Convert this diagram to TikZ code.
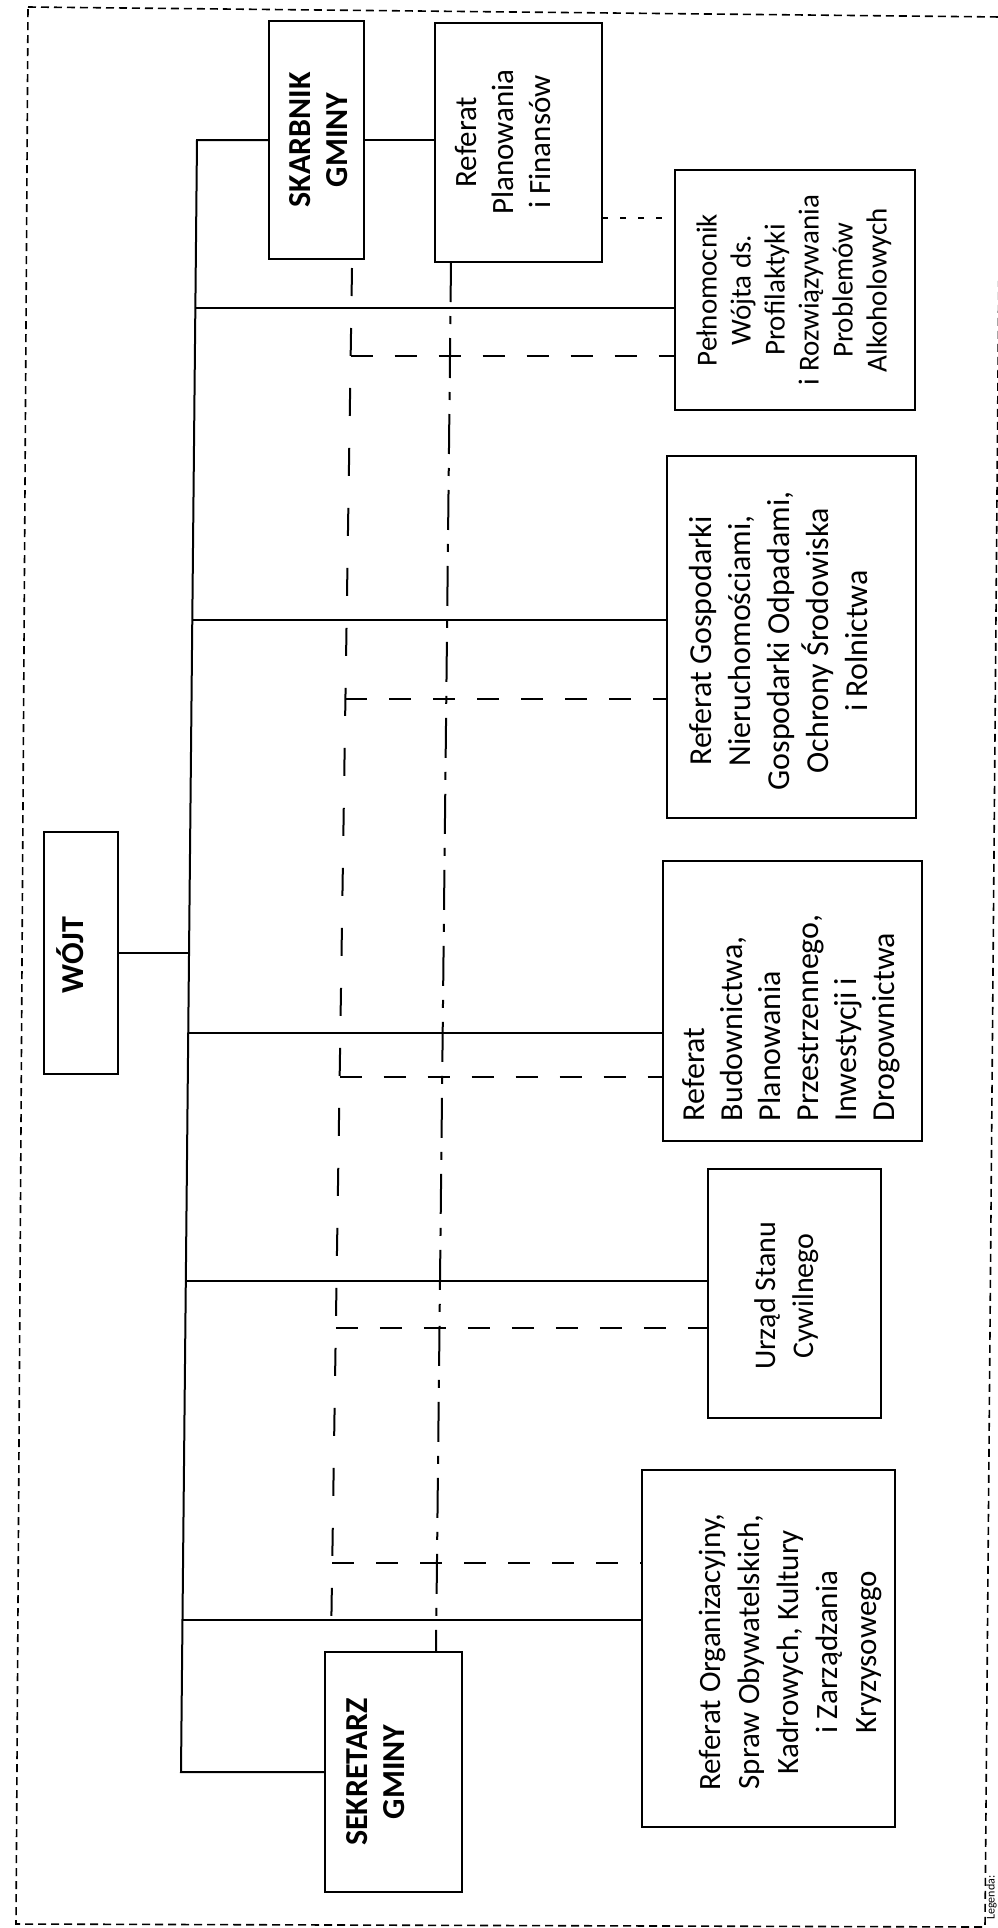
\documentclass[tikz,border=0pt]{standalone}
\usepackage{fontspec}
\setmainfont{Carlito}
\begin{document}
\begin{tikzpicture}[x=1pt,y=-1pt,
  box/.style={draw, line width=2.2pt, inner sep=0pt},
  conn/.style={line width=2pt},
  lbl/.style={rotate=90, inner sep=0pt, align=center},
  dashA/.style={line width=2pt, dash pattern=on 28pt off 32pt},
  dashB/.style={line width=2pt, dash pattern=on 40pt off 14pt on 8pt off 14pt},
  dashH/.style={line width=2pt, dash pattern=on 22pt off 22pt},
  dotH/.style={line width=2pt, dash pattern=on 6pt off 12pt},
  frame/.style={line width=1.6pt, dash pattern=on 8pt off 5pt}]
\useasboundingbox (0,0) rectangle (998,1928);
% outer dashed frame
\draw[frame] (28,7) -- (1001,17) -- (985,1927) -- (16,1924) -- cycle;
% boxes
\node[box, minimum width=95pt, minimum height=238pt] (skarbnik) at (316.5,140) {};
\node[box, minimum width=167pt, minimum height=239pt] (planowania) at (518.5,142.5) {};
\node[box, minimum width=240pt, minimum height=240pt] (pelnomocnik) at (795,290) {};
\node[box, minimum width=249pt, minimum height=362pt] (gospodarki) at (791.5,637) {};
\node[box, minimum width=74pt, minimum height=242pt] (wojt) at (81,953) {};
\node[box, minimum width=259pt, minimum height=280pt] (budownictwa) at (792.5,1001) {};
\node[box, minimum width=173pt, minimum height=249pt] (usc) at (794.5,1293.5) {};
\node[box, minimum width=253pt, minimum height=357pt] (organizacyjny) at (768.5,1648.5) {};
\node[box, minimum width=137pt, minimum height=240pt] (sekretarz) at (393.5,1772) {};
% texts
\node[lbl, font=\bfseries\fontsize{32}{37}\selectfont] (skarbnikT) at (319,140) {SKARBNIK\\GMINY};
\node[lbl, font=\fontsize{31}{37}\selectfont] (planowaniaT) at (503,142) {Referat\\Planowania\\i Finansów};
\node[lbl, font=\fontsize{29}{34}\selectfont] (pelnomocnikT) at (794,290) {Pełnomocnik\\Wójta ds.\\Profilaktyki\\i Rozwiązywania\\Problemów\\Alkoholowych};
\node[lbl, font=\fontsize{32}{39}\selectfont] (gospodarkiT) at (778,641) {Referat Gospodarki\\Nieruchomościami,\\Gospodarki Odpadami,\\Ochrony Środowiska\\i Rolnictwa};
\node[lbl, font=\bfseries\fontsize{32}{37}\selectfont] (wojtT) at (70,955) {WÓJT};
\node[lbl, align=left, font=\fontsize{32}{38}\selectfont] (budownictwaT) at (791,1018) {Referat\\Budownictwa,\\Planowania\\Przestrzennego,\\Inwestycji i\\Drogownictwa};
\node[lbl, font=\fontsize{30}{38}\selectfont] (uscT) at (787,1296) {Urząd Stanu\\Cywilnego};
\node[lbl, font=\fontsize{31}{39}\selectfont] (organizacyjnyT) at (790,1652) {Referat Organizacyjny,\\Spraw Obywatelskich,\\Kadrowych, Kultury\\i Zarządzania\\Kryzysowego};
\node[lbl, font=\bfseries\fontsize{32}{37}\selectfont] (sekretarzT) at (376,1772) {SEKRETARZ\\GMINY};
\node[rotate=90, anchor=base west, inner sep=0pt, font=\fontsize{12}{14}\selectfont] (legenda) at (994.5,1920) {Legenda:};
% trunk
\coordinate (ttop) at (197,140);
\coordinate (tbot) at (181,1772);
\draw[conn] (skarbnik.west) -- (ttop) -- (tbot) -- (sekretarz.west);
\draw[conn] (skarbnik.east) -- (skarbnik.east -| planowania.west);
\coordinate (t1) at (195.4,308);
\coordinate (t2) at (192.3,620);
\coordinate (t3) at (189,953);
\coordinate (t4) at (188.2,1033);
\coordinate (t5) at (185.9,1281);
\coordinate (t6) at (182.5,1620);
\draw[conn] (t1) -- (t1 -| pelnomocnik.west);
\draw[conn] (t2) -- (t2 -| gospodarki.west);
\draw[conn] (wojt.east) -- (t3);
\draw[conn] (t4) -- (t4 -| budownictwa.west);
\draw[conn] (t5) -- (t5 -| usc.west);
\draw[conn] (t6) -- (t6 -| organizacyjny.west);
% dashed verticals
\coordinate (Atop) at (352,268);
\coordinate (Abot) at (331,1644);
\coordinate (Btop) at (451,262);
\coordinate (Bbot) at (436,1652);
\draw[dashA] (Atop) -- (Abot);
\draw[dashB] (Btop) -- (Bbot);
% dashed horizontals
\coordinate (a1) at (350.7,356);
\coordinate (a2) at (345.4,699);
\coordinate (a3) at (339.7,1077);
\coordinate (a4) at (335.8,1328);
\coordinate (a5) at (332.3,1563);
\draw[dashH] (a1) -- (a1 -| pelnomocnik.west);
\draw[dashH] (a2) -- (a2 -| gospodarki.west);
\draw[dashH] (a3) -- (a3 -| budownictwa.west);
\draw[dashH] (a4) -- (a4 -| usc.west);
\draw[dashH] (a5) -- (a5 -| organizacyjny.west);
\coordinate (d0) at (602,218);
\draw[dotH] (d0) -- (d0 -| pelnomocnik.west);
\end{tikzpicture}
\end{document}
